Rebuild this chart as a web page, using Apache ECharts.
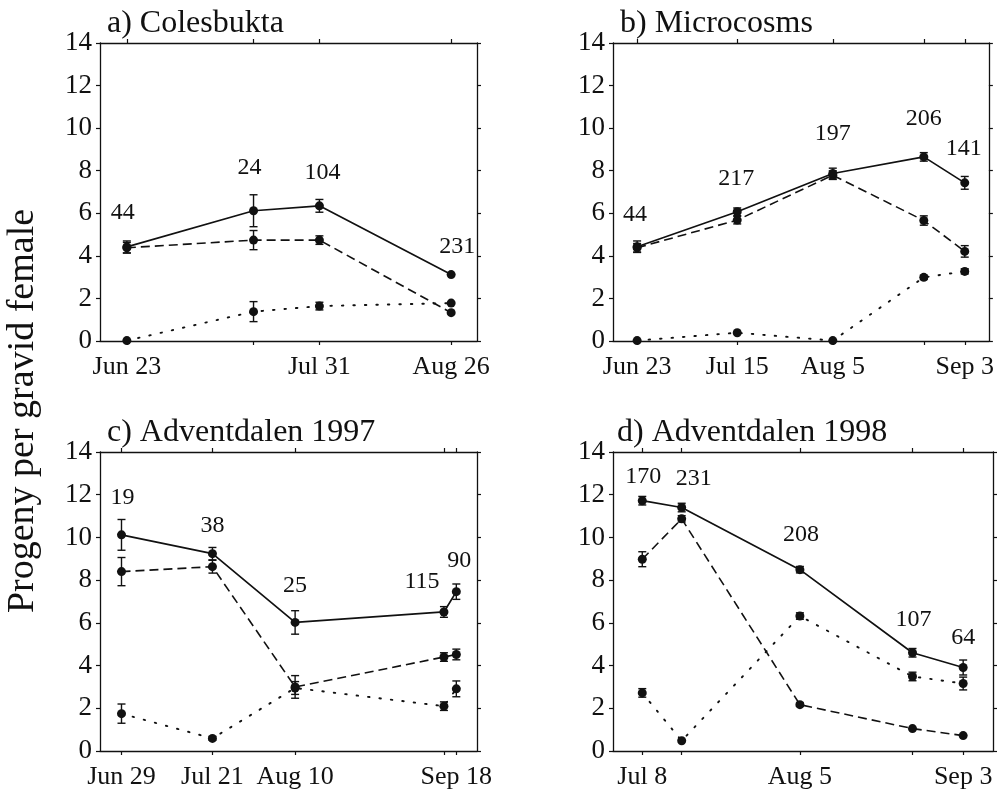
<!DOCTYPE html>
<html>
<head>
<meta charset="utf-8">
<script src="https://cdn.jsdelivr.net/npm/echarts@6/dist/echarts.min.js"></script>
<style>
  html, body { margin: 0; padding: 0; background: #fff; }
  #chart { width: 997px; height: 793px; }
</style>
</head>
<body>
<div id="chart"></div>
<script>
// Sampling dates as day of year, axis ticks and their labels ('' = unlabeled tick)
const daysA = [174, 199, 212, 238];
const tickLabelsA = ['Jun 23', '', 'Jul 31', 'Aug 26'];
const daysB = [174, 196, 217, 237, 246];
const tickLabelsB = ['Jun 23', 'Jul 15', 'Aug 5', '', 'Sep 3'];
const daysC = [180, 202, 222, 258, 261];
const tickLabelsC = ['Jun 29', 'Jul 21', 'Aug 10', '', 'Sep 18'];
const daysD = [189, 196, 217, 237, 246];
const tickLabelsD = ['Jul 8', '', 'Aug 5', '', 'Sep 3'];

// a) Colesbukta
const solidA = [4.42, 6.12, 6.35, 3.12];
const solidErrA = [0.28, 0.75, 0.30, 0.0];
const dashedA = [4.38, 4.74, 4.74, 1.33];
const dashedErrA = [0.25, 0.45, 0.20, 0.0];
const dottedA = [0.02, 1.38, 1.64, 1.78];
const dottedErrA = [0.0, 0.47, 0.18, 0.0];
const nA = ['44', '24', '104', '231'];

// b) Microcosms
const solidB = [4.43, 6.07, 7.87, 8.65, 7.43];
const solidErrB = [0.27, 0.18, 0.25, 0.20, 0.30];
const dashedB = [4.38, 5.68, 7.79, 5.66, 4.21];
const dashedErrB = [0.20, 0.18, 0.20, 0.22, 0.27];
const dottedB = [0.02, 0.39, 0.02, 2.99, 3.27];
const dottedErrB = [0.0, 0.0, 0.0, 0.10, 0.12];
const nB = ['44', '217', '197', '206', '141'];

// c) Adventdalen 1997
const solidC = [10.12, 9.24, 6.02, 6.51, 7.46];
const solidErrC = [0.72, 0.29, 0.55, 0.25, 0.36];
const dashedC = [8.40, 8.63, 3.00, 4.40, 4.52];
const dashedErrC = [0.66, 0.30, 0.53, 0.20, 0.25];
const dottedC = [1.75, 0.59, 2.95, 2.10, 2.91];
const dottedErrC = [0.45, 0.08, 0.30, 0.20, 0.37];
const nC = ['19', '38', '25', '115', '90'];

// d) Adventdalen 1998
const solidD = [11.72, 11.40, 8.49, 4.60, 3.91];
const solidErrD = [0.20, 0.20, 0.15, 0.20, 0.35];
const dashedD = [8.98, 10.87, 2.17, 1.05, 0.72];
const dashedErrD = [0.35, 0.15, 0.08, 0.0, 0.0];
const dottedD = [2.72, 0.48, 6.32, 3.49, 3.16];
const dottedErrD = [0.20, 0.0, 0.15, 0.20, 0.30];
const nD = ['170', '231', '208', '107', '64'];

const yTicks = [0, 2, 4, 6, 8, 10, 12, 14];

// Panel layout and styling
const INK = '#111111';
const FONT = '"Liberation Serif", "Times New Roman", serif';
const panels = [
  { title: 'a) Colesbukta', days: daysA, ticks: tickLabelsA, solid: solidA, solidErr: solidErrA,
    dashed: dashedA, dashedErr: dashedErrA, dotted: dottedA, dottedErr: dottedErrA, n: nA,
    grid: { left: 100, top: 43, width: 377, height: 298 }, xMin: 168.7, xMax: 243.1,
    titlePos: [107, 25], nOffset: [[-4, -34], [-4, -43], [3, -33], [6, -28]] },
  { title: 'b) Microcosms', days: daysB, ticks: tickLabelsB, solid: solidB, solidErr: solidErrB,
    dashed: dashedB, dashedErr: dashedErrB, dotted: dottedB, dottedErr: dottedErrB, n: nB,
    grid: { left: 613, top: 43, width: 380, height: 298 }, xMin: 168.7, xMax: 251.3,
    titlePos: [620, 25], nOffset: [[-2, -32], [-1, -33], [0, -40], [0, -38], [-1, -34]] },
  { title: 'c) Adventdalen 1997', days: daysC, ticks: tickLabelsC, solid: solidC, solidErr: solidErrC,
    dashed: dashedC, dashedErr: dashedErrC, dotted: dottedC, dottedErr: dottedErrC, n: nC,
    grid: { left: 100, top: 452, width: 377, height: 299 }, xMin: 174.8, xMax: 266.0,
    titlePos: [107, 434], nOffset: [[1, -37], [0, -28], [0, -37], [-22, -30], [3, -31]] },
  { title: 'd) Adventdalen 1998', days: daysD, ticks: tickLabelsD, solid: solidD, solidErr: solidErrD,
    dashed: dashedD, dashedErr: dashedErrD, dotted: dottedD, dottedErr: dottedErrD, n: nD,
    grid: { left: 613, top: 452, width: 380, height: 299 }, xMin: 183.8, xMax: 251.3,
    titlePos: [617, 434], nOffset: [[1, -24], [12, -29], [1, -35], [1, -33], [0, -30]] }
];

const lineStyles = {
  solid: { type: 'solid', width: 1.7 },
  dashed: { type: [9, 5], width: 1.6 },
  dotted: { type: [1.5, 10], width: 1.9, cap: 'round' }
};

function errorBars(params, api) {
  const x = api.value(0), m = api.value(1), e = api.value(2);
  if (!(e > 0)) return null;
  const hi = api.coord([x, m + e]);
  const lo = api.coord([x, m - e]);
  const hw = 4;
  const st = { stroke: INK, lineWidth: 1.4 };
  return {
    type: 'group',
    children: [
      { type: 'line', shape: { x1: hi[0], y1: hi[1], x2: lo[0], y2: lo[1] }, style: st },
      { type: 'line', shape: { x1: hi[0] - hw, y1: hi[1], x2: hi[0] + hw, y2: hi[1] }, style: st },
      { type: 'line', shape: { x1: lo[0] - hw, y1: lo[1], x2: lo[0] + hw, y2: lo[1] }, style: st }
    ]
  };
}

const grid = [], xAxis = [], yAxis = [], series = [], graphic = [];

panels.forEach((p, i) => {
  grid.push(Object.assign({ containLabel: false }, p.grid));
  const labelMap = {};
  p.days.forEach((d, k) => { if (p.ticks[k]) labelMap[d] = p.ticks[k]; });
  const labelled = p.days.filter((d, k) => p.ticks[k]);
  const axisLine = { show: true, onZero: false, lineStyle: { color: INK, width: 1.3 } };
  const tick = { show: true, inside: false, length: 4, customValues: p.days, lineStyle: { color: INK, width: 1.2 } };

  // bottom axis with date labels
  xAxis.push({
    type: 'value', gridIndex: i, position: 'bottom', min: p.xMin, max: p.xMax,
    axisLine, axisTick: tick, splitLine: { show: false },
    axisLabel: {
      show: true, customValues: labelled, margin: 13, color: INK,
      fontFamily: FONT, fontSize: 26, formatter: v => labelMap[v] || ''
    }
  });
  // top frame edge
  xAxis.push({
    type: 'value', gridIndex: i, position: 'top', min: p.xMin, max: p.xMax,
    axisLine, axisTick: tick, axisLabel: { show: false }, splitLine: { show: false }
  });
  const yTick = { show: true, inside: false, length: 4, customValues: yTicks, lineStyle: { color: INK, width: 1.2 } };
  yAxis.push({
    type: 'value', gridIndex: i, position: 'left', min: 0, max: 14, interval: 2,
    axisLine, axisTick: yTick, splitLine: { show: false },
    axisLabel: { show: true, margin: 8, color: INK, fontFamily: FONT, fontSize: 27 }
  });
  // right frame edge
  yAxis.push({
    type: 'value', gridIndex: i, position: 'right', min: 0, max: 14, interval: 2,
    axisLine, axisTick: yTick, axisLabel: { show: false }, splitLine: { show: false }
  });

  const xi = i * 2, yi = i * 2;
  ['dotted', 'dashed', 'solid'].forEach(kind => {
    const vals = p[kind], errs = p[kind + 'Err'];
    series.push({
      type: 'custom', xAxisIndex: xi, yAxisIndex: yi, renderItem: errorBars,
      encode: { x: 0, y: 1 }, silent: true, z: 2,
      data: p.days.map((d, k) => [d, vals[k], errs[k]])
    });
    series.push({
      type: 'line', xAxisIndex: xi, yAxisIndex: yi, z: 3,
      symbol: 'circle', symbolSize: 9, showSymbol: true, silent: true,
      itemStyle: { color: INK },
      lineStyle: Object.assign({ color: INK }, lineStyles[kind]),
      data: p.days.map((d, k) => [d, vals[k]])
    });
  });

  // sample sizes written above the solid-line points
  series.push({
    type: 'scatter', xAxisIndex: xi, yAxisIndex: yi, z: 5, silent: true,
    symbolSize: 0, itemStyle: { color: INK, opacity: 1 },
    data: p.days.map((d, k) => ({
      value: [d, p.solid[k]],
      label: {
        show: true, position: 'inside', offset: p.nOffset[k], formatter: p.n[k],
        color: INK, opacity: 1, textBorderWidth: 0, fontFamily: FONT, fontSize: 24
      }
    }))
  });

  graphic.push({
    type: 'text', left: p.titlePos[0], top: p.titlePos[1] - 17,
    style: { text: p.title, fill: INK, font: '32px ' + FONT }
  });
});

graphic.push({
  type: 'text', x: 23, y: 411, rotation: Math.PI / 2,
  style: { text: 'Progeny per gravid female', fill: INK, font: '38px ' + FONT,
           align: 'center', verticalAlign: 'middle' }
});

const chart = echarts.init(document.getElementById('chart'), null, { renderer: 'canvas' });
chart.setOption({
  animation: false,
  backgroundColor: '#fff',
  grid, xAxis, yAxis, series, graphic
});
</script>
</body>
</html>
